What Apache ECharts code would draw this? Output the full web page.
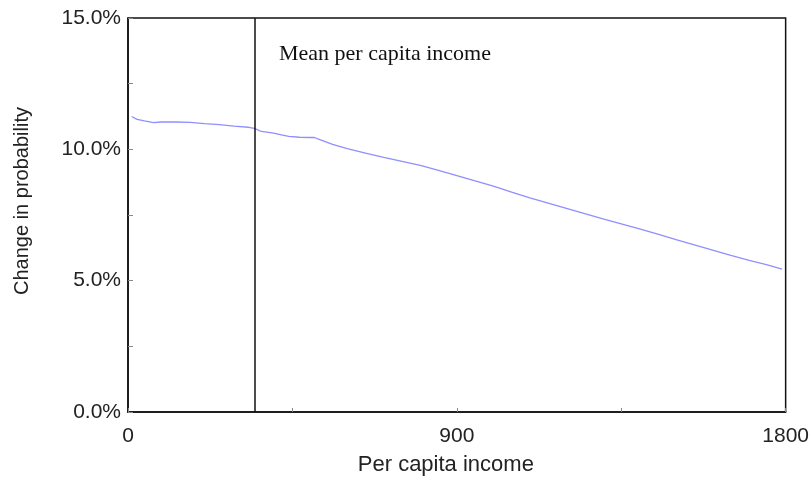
<!DOCTYPE html>
<html>
<head>
<meta charset="utf-8">
<script src="https://cdn.jsdelivr.net/npm/echarts@6/dist/echarts.min.js"></script>
<style>
html,body{margin:0;padding:0;background:#fff;}
#chart{width:812px;height:485px;}
</style>
</head>
<body>
<div id="chart"></div>
<script>
// Per capita income (x) and change in probability (%) (y)
const income = [10, 25, 45, 70, 90, 130, 170, 210, 250, 290, 330, 346, 365, 395, 420, 440, 470, 500, 510, 525,
  560, 600, 650, 700, 750, 800, 850, 900, 950, 1000, 1050, 1100, 1150, 1200, 1250, 1300, 1350, 1400,
  1450, 1500, 1550, 1600, 1650, 1700, 1750, 1790];
const changePct = [11.25, 11.14, 11.08, 11.02, 11.04, 11.04, 11.03, 10.98, 10.94, 10.88, 10.84, 10.80, 10.68, 10.63, 10.55, 10.49, 10.46, 10.45, 10.45, 10.37,
  10.19, 10.03, 9.86, 9.69, 9.54, 9.39, 9.20, 9.00, 8.80, 8.60, 8.37, 8.15, 7.95, 7.75, 7.55, 7.35, 7.16, 6.97,
  6.77, 6.56, 6.36, 6.16, 5.96, 5.77, 5.60, 5.44];
const meanIncome = 346;
const xTickLabels = [0, 900, 1800];
const yTickLabels = [0, 5, 10, 15];
const meanLabel = 'Mean per capita income';

const chart = echarts.init(document.getElementById('chart'), null, {renderer: 'canvas'});
const FONT = '"Liberation Sans", Arial, sans-serif';
chart.setOption({
  animation: false,
  backgroundColor: '#fff',
  grid: {left: 128, right: 25, top: 18, bottom: 73, show: true, borderColor: '#111', borderWidth: 1.5, containLabel: false},
  xAxis: {
    type: 'value', min: 0, max: 1800, interval: 450,
    name: 'Per capita income', nameLocation: 'middle', nameGap: 42,
    nameTextStyle: {fontFamily: FONT, fontSize: 22, color: '#222', padding: [0, 22, 0, 0]},
    axisLine: {show: true, lineStyle: {color: '#111', width: 1.5}},
    axisTick: {show: true, inside: true, length: 4, lineStyle: {color: '#888'}},
    splitLine: {show: false},
    axisLabel: {
      margin: 14, fontFamily: FONT, fontSize: 21, color: '#222',
      formatter: v => xTickLabels.indexOf(v) >= 0 ? String(v) : ''
    }
  },
  yAxis: {
    type: 'value', min: 0, max: 15, interval: 2.5,
    name: 'Change in probability', nameLocation: 'middle', nameGap: 96, nameRotate: 90,
    nameTextStyle: {fontFamily: FONT, fontSize: 20, color: '#222', padding: [0, 0, 0, 28]},
    axisLine: {show: true, lineStyle: {color: '#111', width: 1.5}},
    axisTick: {show: true, inside: true, length: 5, lineStyle: {color: '#888'}},
    splitLine: {show: false},
    axisLabel: {
      margin: 7, fontFamily: FONT, fontSize: 21, color: '#222',
      formatter: v => yTickLabels.indexOf(v) >= 0 ? v.toFixed(1) + '%' : ''
    }
  },
  series: [{
    type: 'line',
    data: income.map((x, i) => [x, changePct[i]]),
    showSymbol: false,
    lineStyle: {color: '#8f8fff', width: 1.3},
    z: 2,
    markLine: {
      silent: true, symbol: 'none', animation: false,
      label: {show: false},
      lineStyle: {color: '#111', width: 1.5, type: 'solid'},
      data: [{xAxis: meanIncome}]
    }
  }],
  graphic: [{
    type: 'text', left: 279, top: 43,
    style: {text: meanLabel, font: '22px "Liberation Serif", "Times New Roman", serif', fill: '#111'}
  }]
});
</script>
</body>
</html>
